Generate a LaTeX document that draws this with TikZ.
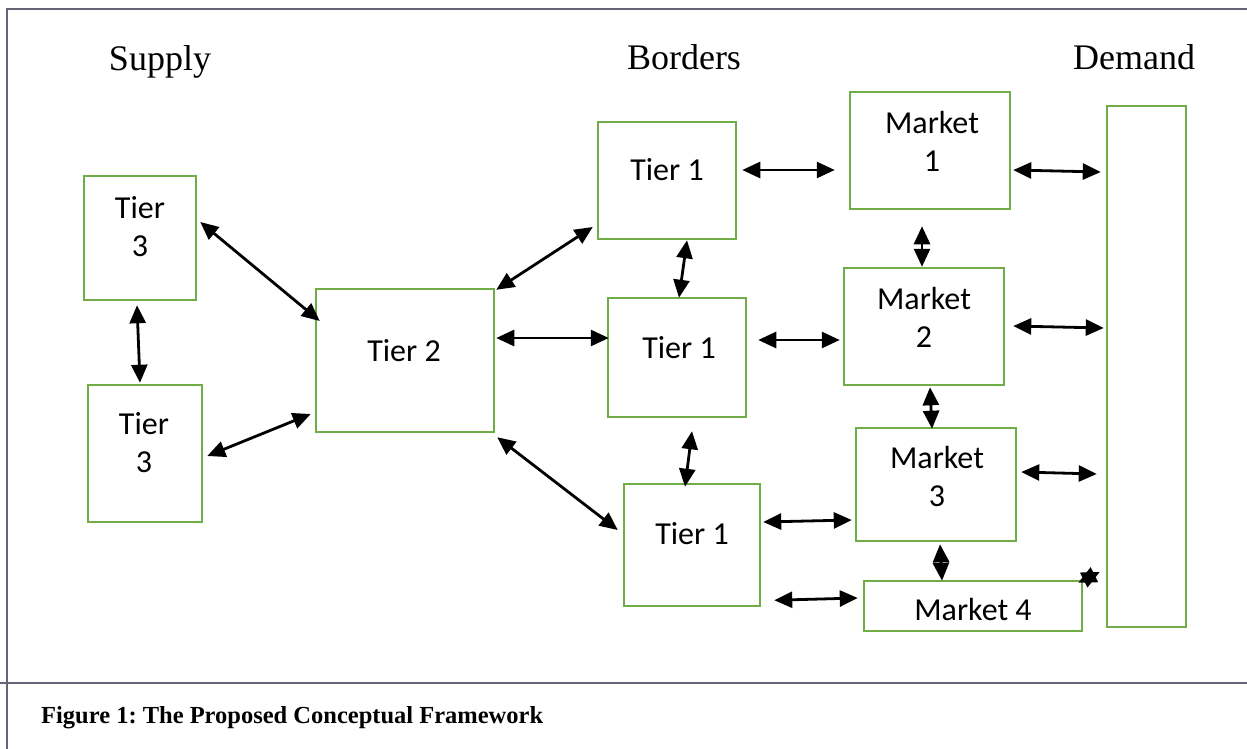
\documentclass[tikz,border=0pt]{standalone}
\usepackage{fontspec}
\setmainfont{Liberation Serif}
\newfontfamily\boxfont{Carlito}
\usetikzlibrary{arrows.meta,calc}
\definecolor{boxgreen}{RGB}{112,173,71}
\definecolor{framegray}{RGB}{100,100,118}
\frenchspacing
\begin{document}
\begin{tikzpicture}[x=1pt,y=-1pt,
  tierbox/.style={draw=boxgreen,line width=2.5pt,inner sep=0pt,fill=white},
  boxtext/.style={font=\boxfont\fontsize{32}{38}\selectfont,align=center,inner sep=0pt},
  headtext/.style={font=\fontsize{36}{40}\selectfont,inner sep=0pt,anchor=base},
  link/.style={line width=2.8pt,{Triangle[length=18pt,width=16pt]}-{Triangle[length=18pt,width=16pt]}},
  framerule/.style={draw=framegray,line width=2pt}]
\useasboundingbox (0,0) rectangle (1247,749);
% page frame and caption rule
\draw[framerule] (7,749) -- (7,9) -- (1247,9);
\draw[framerule] (0,683) -- (1247,683);
% column headings
\node[headtext] (hsup) at (160,71) {Supply};
\node[headtext] (hbor) at (684,70) {Borders};
\node[headtext] (hdem) at (1134,70) {Demand};
% boxes
\node[tierbox,minimum width=112pt,minimum height=124pt] (t3a) at (140,238) {};
\node[tierbox,minimum width=114pt,minimum height=137pt] (t3b) at (145,453.5) {};
\node[tierbox,minimum width=178pt,minimum height=143pt] (t2) at (405,360.5) {};
\node[tierbox,minimum width=138pt,minimum height=117pt] (t1a) at (667,180.5) {};
\node[tierbox,minimum width=138pt,minimum height=119pt] (t1b) at (677,357.5) {};
\node[tierbox,minimum width=136pt,minimum height=122pt] (t1c) at (692,545) {};
\node[tierbox,minimum width=160pt,minimum height=117pt] (m1) at (930,150.5) {};
\node[tierbox,minimum width=160pt,minimum height=117pt] (m2) at (924,326.5) {};
\node[tierbox,minimum width=160pt,minimum height=113pt] (m3) at (936,484.5) {};
\node[tierbox,minimum width=218pt,minimum height=50pt] (m4) at (973,606) {};
\node[tierbox,minimum width=79pt,minimum height=521pt] (dem) at (1146.5,366.5) {};
% box labels
\node[boxtext] (t3a-l) at (140,227) {Tier\\3};
\node[boxtext] (t3b-l) at (144,443) {Tier\\3};
\node[boxtext] (t2-l) at (404,351) {Tier 2};
\node[boxtext] (t1a-l) at (667,170) {Tier 1};
\node[boxtext] (t1b-l) at (679,348) {Tier 1};
\node[boxtext] (t1c-l) at (692,534) {Tier 1};
\node[boxtext] (m1-l) at (932,141) {Market\\1};
\node[boxtext] (m2-l) at (924,317) {Market\\2};
\node[boxtext] (m3-l) at (937,476) {Market\\3};
\node[boxtext] (m4-l) at (973,610) {Market 4};
% connectors
\draw[link] ($(t3a.south)+(-3,4)$) -- ($(t3b.north)+(-5,-1)$);
\draw[link] ($(t3a.east)+(3,-16)$) -- ($(t2.west)+(5,-39.5)$);
\draw[link] ($(t3b.east)+(4,2.5)$) -- ($(t2.west)+(-4,53.5)$);
\draw[link] ($(t2.north east)+(1,2)$) -- ($(t1a.west)+(-4,46.5)$);
\draw[link] ($(t2.east)+(1,-22.5)$) -- ($(t1b.west)+(2,-19.5)$);
\draw[link] ($(t2.south east)+(2,4)$) -- ($(t1c.west)+(-5,-15)$);
\draw[link] ($(t1a.south)+(20,0)$) -- ($(t1b.north)+(2,1)$);
\draw[link] ($(t1b.south)+(15,13)$) -- ($(t1c.north)+(-7,4)$);
\draw[link] ($(t1a.east)+(5,-10.5)$) -- ($(m1.west)+(-14,19.5)$);
\draw[link] ($(t1b.east)+(11,-17.5)$) -- ($(m2.west)+(-3,13.5)$);
\draw[link] ($(t1c.east)+(2,-23)$) -- ($(m3.west)+(-3,35.5)$);
\draw[link] ($(t1c.south east)+(13,-7)$) -- ($(m4.west)+(-5,-8)$);
\draw[link] ($(m1.south)+(-8,16)$) -- ($(m2.north)+(-2,0)$);
\draw[link] ($(m2.south)+(6,1)$) -- ($(m3.north)+(-4,2)$);
\draw[link] ($(m3.south)+(4,2)$) -- ($(m4.north)+(-31,1)$);
\draw[link] ($(m1.east)+(2,19.5)$) -- ($(dem.west)+(-5,-194.5)$);
\draw[link] ($(m2.east)+(8,-0.5)$) -- ($(dem.west)+(-2,-38.5)$);
\draw[link] ($(m3.east)+(4,-12.5)$) -- ($(dem.west)+(-9,107.5)$);
\draw[link] ($(m4.north east)+(-5,3)$) -- ($(dem.west)+(-6,205.5)$);
% caption
\node[anchor=base west,inner sep=0pt,font=\bfseries\fontsize{24.5}{28}\selectfont] (cap) at (41,723) {Figure 1: The Proposed Conceptual Framework};
\end{tikzpicture}
\end{document}
